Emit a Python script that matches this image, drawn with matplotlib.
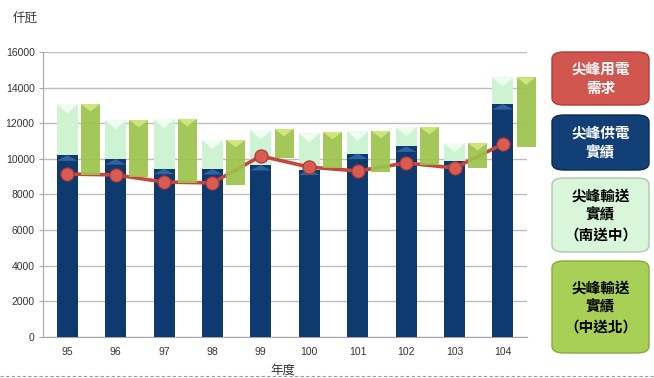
import matplotlib
matplotlib.use('Agg')
import matplotlib.pyplot as plt
import numpy as np
from matplotlib.patches import Polygon, FancyBboxPatch

plt.rcParams['font.family'] = ['Liberation Sans', 'Noto Sans CJK TC', 'DejaVu Sans']

# 年度 (ROC years)
years = ['95', '96', '97', '98', '99', '100', '101', '102', '103', '104']
# 尖峰供電實績 (MW)
supply = [10200, 9990, 9450, 9430, 9660, 9400, 10300, 10700, 9880, 13080]
# 尖峰輸送實績 (南送中), stacked on top of supply
south_to_central = [2880, 2190, 2790, 1630, 1960, 2050, 1250, 1090, 1010, 1500]
# 尖峰輸送實績 (中送北), floating bars: base + height
north_base = [9100, 8980, 8650, 8530, 10050, 9490, 9260, 9660, 9490, 10670]
north_height = [3980, 3200, 3590, 2530, 1630, 2020, 2310, 2130, 1400, 3910]
# 尖峰用電需求
demand = [9150, 9100, 8700, 8650, 10160, 9540, 9320, 9770, 9490, 10835]

navy = '#0e3a6f'
navy_hi = '#2f63a0'
lgreen = '#cdf3d2'
lgreen_hi = '#f0fdf2'
olive = '#9cc34b'
olive_hi = '#cfe67f'
red = '#c4463f'

fig = plt.figure(figsize=(6.54, 3.78), dpi=100)
ax = fig.add_axes([0.0657, 0.1085, 0.7403, 0.7539])

x = np.arange(len(years))
w1 = 0.434
w2 = 0.39
off2 = 0.48
tri = 520

tops = [s + t for s, t in zip(supply, south_to_central)]

# light green (south->central) drawn full height behind navy
ax.bar(x, tops, w1, color=lgreen, zorder=2, edgecolor='none')
ax.bar(x, supply, w1, color=navy, zorder=3, edgecolor='none')
nb = ax.bar(x + off2, north_height, w2, bottom=north_base, color=olive, alpha=0.92,
            zorder=5, edgecolor='none')
for p in nb:
    p.set_clip_on(False)

# bevel highlights at bar tops
for i in range(len(years)):
    l, r = x[i] - w1 / 2, x[i] + w1 / 2
    ax.add_patch(Polygon([(l, tops[i]), (r, tops[i]), (x[i], tops[i] - tri)],
                         closed=True, color=lgreen_hi, zorder=2.5, lw=0))
    ax.add_patch(Polygon([(l, supply[i] - tri * 0.6), (r, supply[i] - tri * 0.6),
                          (x[i], supply[i])],
                         closed=True, color=navy_hi, zorder=3.5, lw=0))
    xt = x[i] + off2
    l2, r2 = xt - w2 / 2, xt + w2 / 2
    t2 = north_base[i] + north_height[i]
    ax.add_patch(Polygon([(l2, t2), (r2, t2), (xt, t2 - tri * 0.8)],
                         closed=True, color=olive_hi, zorder=5.5, lw=0,
                         clip_on=False))

ax.plot(x, demand, color=red, lw=2.6, zorder=4)
ax.plot(x, demand, 'o', ms=9.5, mfc='#d95b54', mec='#a93530', mew=0.8, zorder=6)

ax.set_xlim(-0.5, 9.5)
ax.set_ylim(0, 16000)
ax.set_yticks(np.arange(0, 16001, 2000))
ax.set_xticks(x)
ax.set_xticklabels(years)
ax.yaxis.grid(True, color='#bdbdbd', lw=1.0, zorder=0)
ax.set_axisbelow(True)
for s in ['top', 'right']:
    ax.spines[s].set_visible(False)
ax.spines['left'].set_color('#a6a6a6')
ax.spines['bottom'].set_color('#a6a6a6')
ax.tick_params(axis='y', length=3, color='#a6a6a6', labelsize=7.5, pad=3,
               labelcolor='#333333')
ax.tick_params(axis='x', length=0, labelsize=7.5, pad=7, labelcolor='#333333')

fig.text(0.02, 0.952, '仟瓩', fontsize=9, family=['Noto Sans CJK TC'], va='center',
         color='#333333')
fig.text(0.432, 0.02, '年度', fontsize=9, family=['Noto Sans CJK TC'], va='center',
         ha='center', color='#333333')

# dashed rule along the bottom
fig.add_artist(plt.Line2D([0, 1], [0.004, 0.004], color='#9a9a9a', lw=0.8,
                          ls=(0, (3, 2)), transform=fig.transFigure))

# legend boxes on the right
W, H = 654, 378
boxes = [
    (52, 105, '#d25650', '#b23c37', '尖峰用電\n需求', 'white'),
    (115, 170, '#133f77', '#0b2a52', '尖峰供電\n實績', 'white'),
    (178, 252, '#d9f6da', '#a9c9ab', '尖峰輸送\n實績\n（南送中）', 'black'),
    (261, 353, '#a8cf56', '#86a93e', '尖峰輸送\n實績\n（中送北）', 'black'),
]
bx0, bx1 = 552, 649
for y0, y1, fc, ec, txt, tc in boxes:
    fig.add_artist(FancyBboxPatch((bx0 / W, 1 - y1 / H), (bx1 - bx0) / W, (y1 - y0) / H,
                                  boxstyle='round,pad=0,rounding_size=0.018',
                                  fc=fc, ec=ec, lw=1.0, transform=fig.transFigure))
    fig.text((bx0 + bx1) / 2 / W, 1 - (y0 + y1) / 2 / H, txt, color=tc,
             fontsize=10.5, fontweight='bold', family=['Noto Sans CJK TC'],
             ha='center', va='center', linespacing=1.25)

fig.savefig('out.png', dpi=100)
